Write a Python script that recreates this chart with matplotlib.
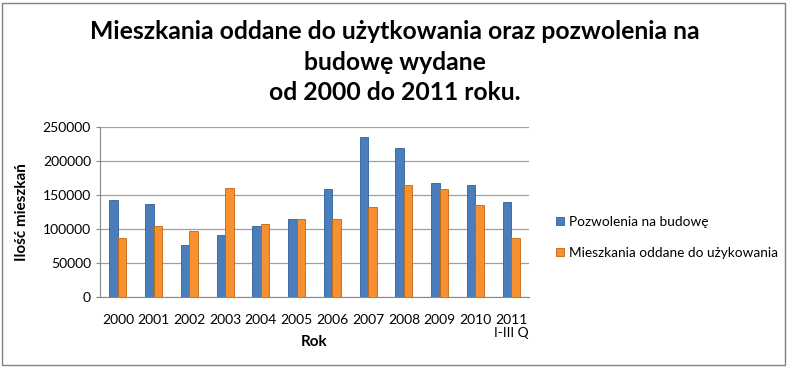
import matplotlib.pyplot as plt
import numpy as np
from matplotlib.patches import Rectangle

# dane z wykresu
lata = ["2000", "2001", "2002", "2003", "2004", "2005", "2006", "2007",
        "2008", "2009", "2010", "2011\nI-III Q"]
pozwolenia = [143000, 137000, 76500, 91000, 104500, 114000, 159000, 235500,
              219500, 167000, 164000, 140000]
oddane = [87000, 105000, 96500, 161000, 107500, 114000, 115000, 133000,
          164000, 159000, 135000, 87000]

plt.rcParams['font.family'] = ['Lato', 'DejaVu Sans']

fig = plt.figure(figsize=(7.88, 3.67), dpi=100)
ax = fig.add_axes([100 / 788, 1 - 297 / 367, 429 / 788, 170 / 367])

x = np.arange(len(lata))
w = 0.24
ax.bar(x - w / 2, pozwolenia, w, color='#4a7ebb', edgecolor='#2f5f98',
       linewidth=0.6, label='Pozwolenia na budowę', zorder=3)
ax.bar(x + w / 2, oddane, w, color='#f79030', edgecolor='#c0660e',
       linewidth=0.6, label='Mieszkania oddane do użykowania', zorder=3)

ax.set_xlim(-0.5, len(lata) - 0.5)
ax.set_ylim(0, 250000)
ax.set_yticks(range(0, 250001, 50000))
ax.yaxis.grid(True, color='#a0a0a0', linewidth=0.9, zorder=0)
ax.set_xticks(x)
ax.set_xticklabels(lata, fontsize=10, linespacing=1.1)
ax.tick_params(axis='y', labelsize=10, length=3, color='#888888')
ax.tick_params(axis='x', length=0, pad=12)
for s in ['top', 'right']:
    ax.spines[s].set_visible(False)
ax.spines['left'].set_color('#888888')
ax.spines['bottom'].set_color('#888888')

ax.set_ylabel('Ilość mieszkań', fontsize=11, fontweight='bold', labelpad=10)
ax.set_xlabel('Rok', fontsize=11, fontweight='bold', labelpad=-3)

fig.text(395 / 788, 1 - 62 / 367,
         'Mieszkania oddane do użytkowania oraz pozwolenia na\nbudowę wydane\nod 2000 do 2011 roku.',
         ha='center', va='center', fontsize=17.8, fontweight='bold',
         linespacing=1.38)

ax.legend(loc='center left', bbox_to_anchor=(1.035, 0.35), frameon=False,
          fontsize=9.8, handlelength=0.55, handleheight=0.55,
          handletextpad=0.35, labelspacing=1.4)

fig.add_artist(Rectangle((2 / 788, 2 / 367), 783 / 788, 362 / 367,
                         transform=fig.transFigure, fill=False,
                         edgecolor='#808080', linewidth=1))

fig.savefig('out.png', dpi=100)
